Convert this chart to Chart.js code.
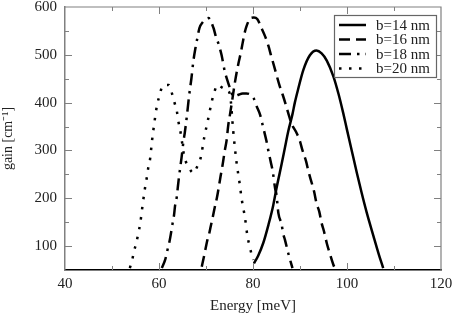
<!DOCTYPE html>
<html><head><meta charset="utf-8">
<script src="https://cdn.jsdelivr.net/npm/chart.js@4/dist/chart.umd.min.js"></script>
<style>html,body{margin:0;padding:0;background:#fff}#wrap{width:454px;height:318px}</style>
</head><body><div id="wrap"><canvas id="c" width="454" height="318"></canvas></div>
<script>
// ---- data ----
const seriesLabels = ['b=14 nm', 'b=16 nm', 'b=18 nm', 'b=20 nm'];

const energy14 = [80.2, 81.1, 82.2, 83.3, 84.3, 85.0, 86.1, 86.8, 87.5, 88.4, 88.9, 89.6, 90.7, 92.1, 93.5, 94.6, 95.7, 97.1, 98.2, 99.2, 100.0, 101.0, 102.1, 103.1, 104.2, 105.6, 106.7, 107.7];
const gain14   = [64, 80, 107, 145, 185, 221, 272, 306, 340, 376, 400, 428, 468, 499, 509, 503, 488, 455, 418, 378, 343, 300, 253, 212, 170, 122, 85, 54];

const energy16 = [69.1, 69.5, 70.0, 70.3, 70.7, 71.0, 71.4, 71.9, 72.3, 72.8, 73.1, 73.5, 74.0, 74.4, 74.7, 75.1, 75.5, 75.8, 76.2, 76.5, 76.9, 77.4, 77.8, 78.2, 78.7, 79.5, 80.2, 80.9, 81.8, 82.6, 83.3, 83.8, 84.5, 85.0, 85.7, 86.3, 87.0, 87.5, 88.2, 89.3, 90.0, 90.5, 91.3, 91.8, 92.5, 93.0, 93.5, 94.1, 94.6, 95.1, 95.7, 96.2, 97.1, 97.4];
const gain16   = [57, 75, 99, 113, 127, 141, 159, 183, 200, 228, 246, 268, 300, 322, 350, 375, 400, 420, 445, 462, 482, 504, 525, 545, 562, 577, 578, 575, 556, 538, 518, 500, 476, 458, 434, 417, 395, 378, 356, 336, 319, 301, 277, 256, 232, 214, 190, 172, 148, 131, 106, 89, 61, 54];

const energy18 = [60.6, 61.3, 61.8, 62.2, 62.5, 62.9, 63.2, 63.4, 63.8, 64.0, 64.2, 64.5, 64.8, 65.2, 65.5, 66.0, 66.4, 66.9, 67.3, 67.7, 68.2, 68.6, 69.3, 70.5, 71.6, 72.1, 72.6, 73.3, 74.0, 74.7, 75.3, 75.8, 76.8, 77.8, 78.6, 80.1, 80.8, 81.5, 82.0, 82.9, 83.3, 83.8, 84.2, 84.7, 85.0, 85.4, 86.1, 86.4, 86.8, 87.5, 87.9, 88.4];
const gain18   = [54, 71, 92, 108, 124, 148, 165, 183, 204, 223, 240, 263, 285, 319, 338, 378, 414, 451, 486, 511, 537, 556, 568, 577, 556, 538, 525, 500, 465, 442, 425, 413, 416, 419, 419, 410, 392, 375, 355, 318, 298, 275, 256, 221, 207, 169, 145, 127, 113, 85, 71, 54];

const energy20 = [53.8, 54.3, 54.7, 55.2, 55.6, 56.0, 56.5, 57.0, 57.4, 57.7, 58.1, 58.5, 59.0, 59.6, 60.1, 60.7, 61.5, 62.1, 62.8, 63.3, 63.8, 64.1, 64.5, 64.8, 65.4, 66.2, 67.3, 68.2, 68.9, 69.6, 70.4, 71.2, 71.7, 72.5, 73.7, 74.5, 75.2, 75.8, 76.5, 77.1, 77.6, 78.3, 78.8, 79.2, 79.7, 80.1];
const gain20   = [54, 71, 90, 108, 127, 147, 185, 220, 243, 263, 282, 319, 357, 396, 414, 434, 437, 437, 418, 400, 382, 362, 343, 324, 286, 268, 253, 268, 286, 326, 363, 401, 420, 437, 430, 427, 410, 340, 275, 235, 198, 159, 122, 103, 83, 71];

const xTickValues = [40, 60, 80, 100, 120];
const xMinorTicks = [50, 70, 90, 110];
const yTickValues = [100, 200, 300, 400, 500, 600];
const yMinorTicks = [150, 250, 350, 450, 550];

// ---- styles ----
const FONT = 'Liberation Serif';
const TXT = '#222';
const dashes = [[], [11, 6], [12, 6, 2.5, 6], [2.5, 7.5]];
const energies = [energy14, energy16, energy18, energy20];
const gains = [gain14, gain16, gain18, gain20];

const datasets = seriesLabels.map((lab, i) => ({
  label: lab,
  data: energies[i].map((x, j) => ({ x: x, y: gains[i][j] })),
  borderColor: '#000',
  borderWidth: 2.5,
  borderDash: dashes[i],
  borderCapStyle: 'butt',
  pointRadius: 0,
  fill: false,
  cubicInterpolationMode: 'monotone'
}));

const framePlugin = {
  id: 'frame',
  afterDatasetsDraw(chart) {
    const ctx = chart.ctx, ca = chart.chartArea;
    const sx = chart.scales.x, sy = chart.scales.y;
    ctx.save();
    ctx.strokeStyle = '#808080';
    ctx.lineWidth = 1.2;
    ctx.setLineDash([]);
    ctx.beginPath();
    ctx.moveTo(ca.left, ca.top); ctx.lineTo(ca.right, ca.top); ctx.lineTo(ca.right, ca.bottom);
    ctx.stroke();
    ctx.lineWidth = 1;
    const tick = (vals, len) => {
      vals.forEach(v => {
        const px = Math.round(sx.getPixelForValue(v)) + 0.5;
        ctx.beginPath(); ctx.moveTo(px, ca.bottom); ctx.lineTo(px, ca.bottom - len); ctx.stroke();
        ctx.beginPath(); ctx.moveTo(px, ca.top); ctx.lineTo(px, ca.top + len); ctx.stroke();
      });
    };
    const tickY = (vals, len) => {
      vals.forEach(v => {
        const py = Math.round(sy.getPixelForValue(v)) + 0.5;
        ctx.beginPath(); ctx.moveTo(ca.left, py); ctx.lineTo(ca.left + len, py); ctx.stroke();
        ctx.beginPath(); ctx.moveTo(ca.right, py); ctx.lineTo(ca.right - len, py); ctx.stroke();
      });
    };
    tick(xTickValues.slice(1, -1), 7); tick(xMinorTicks, 4);
    tickY(yTickValues.slice(0, -1), 7); tickY(yMinorTicks, 4);

    // legend
    const bw = 102, bh = 62;
    const bx = ca.right - bw - 5, by = ca.top + 8;
    ctx.fillStyle = '#fff';
    ctx.fillRect(bx, by, bw, bh);
    ctx.strokeStyle = '#666';
    ctx.lineWidth = 1.2;
    ctx.strokeRect(bx + 0.5, by + 0.5, bw, bh);
    ctx.font = '15px "' + FONT + '"';
    ctx.textBaseline = 'middle';
    ctx.textAlign = 'left';
    chart.data.datasets.forEach((ds, i) => {
      const yy = by + 10 + i * 14.5;
      ctx.strokeStyle = '#000';
      ctx.lineWidth = 2.5;
      ctx.lineCap = 'butt';
      ctx.setLineDash(ds.borderDash);
      ctx.beginPath(); ctx.moveTo(bx + 5, yy); ctx.lineTo(bx + 32, yy); ctx.stroke();
      ctx.setLineDash([]);
      ctx.fillStyle = TXT;
      ctx.fillText(ds.label, bx + 42, yy + 1);
    });
    ctx.restore();
  }
};

new Chart(document.getElementById('c'), {
  type: 'line',
  data: { datasets: datasets },
  options: {
    responsive: false,
    devicePixelRatio: 1,
    animation: false,
    layout: { padding: 0 },
    plugins: { legend: { display: false }, tooltip: { enabled: false } },
    scales: {
      x: {
        type: 'linear', min: 40, max: 120,
        afterBuildTicks: s => { s.ticks = xTickValues.map(v => ({ value: v })); },
        afterFit: s => { s.height = 48; s.paddingRight = 13; s.paddingLeft = 0; },
        ticks: { font: { family: FONT, size: 15, lineHeight: 1 }, color: TXT, padding: 7, maxRotation: 0, autoSkip: false },
        grid: { display: false, drawTicks: false },
        border: { display: true, color: '#000', width: 1.5 },
        title: { display: true, text: 'Energy [meV]', font: { family: FONT, size: 15 }, color: TXT, padding: { top: 0, bottom: 3 } }
      },
      y: {
        type: 'linear', min: 50, max: 600,
        afterBuildTicks: s => { s.ticks = yTickValues.map(v => ({ value: v })); },
        afterFit: s => { s.width = 65; s.paddingTop = 7; s.paddingBottom = 0; },
        ticks: { font: { family: FONT, size: 15, lineHeight: 1 }, color: TXT, padding: 8, autoSkip: false },
        grid: { display: false, drawTicks: false },
        border: { display: true, color: '#808080', width: 1.5 },
        title: { display: true, text: 'gain [cm\u207B\u00B9]', font: { family: FONT, size: 14 }, color: TXT, padding: { top: 0, bottom: 9 } }
      }
    }
  },
  plugins: [framePlugin]
});
</script>
</body></html>
